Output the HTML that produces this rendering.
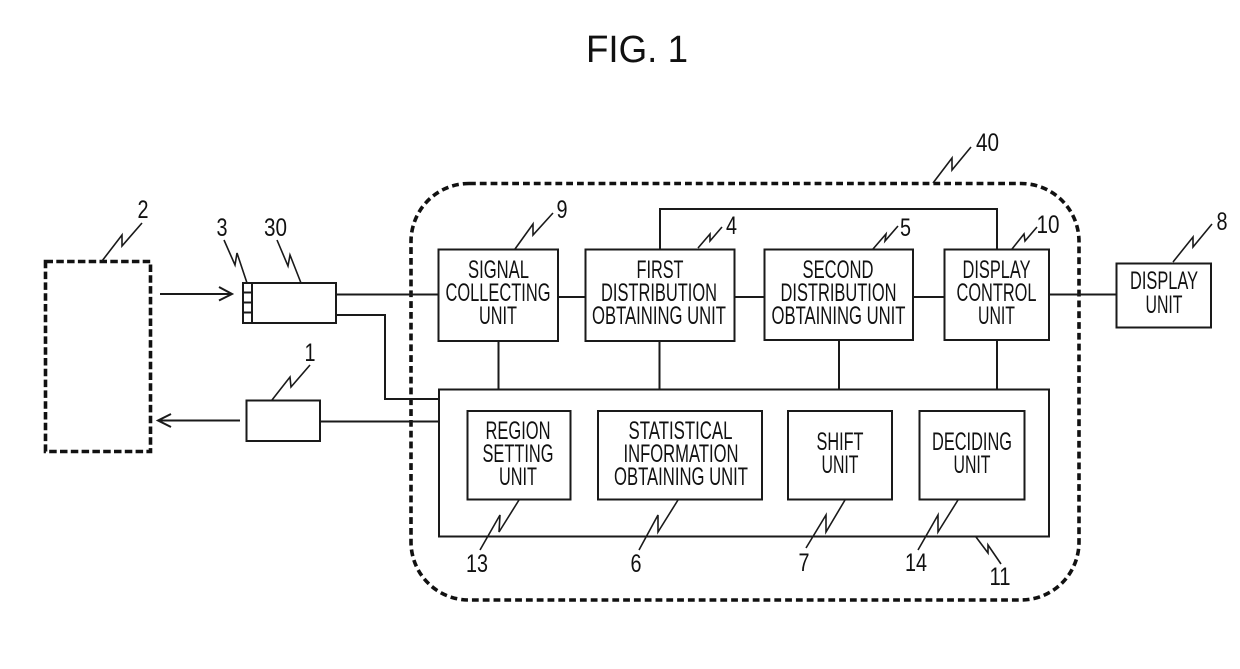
<!DOCTYPE html>
<html>
<head>
<meta charset="utf-8">
<style>
html,body{margin:0;padding:0;background:#fff;width:1240px;height:669px;overflow:hidden}
svg{display:block}
text{font-family:"Liberation Sans",sans-serif;font-size:25px;fill:#111;text-anchor:middle}
.b{fill:none;stroke:#1a1a1a;stroke-width:2}
.l{fill:none;stroke:#1a1a1a;stroke-width:2}
.t{fill:none;stroke:#1a1a1a;stroke-width:1.6}
.d{fill:none;stroke:#111;stroke-width:3.6}
</style>
</head>
<body>
<svg width="1240" height="669" viewBox="0 0 1240 669" xmlns="http://www.w3.org/2000/svg">
<text x="637" y="62" style="font-size:38px" textLength="102" lengthAdjust="spacingAndGlyphs">FIG. 1</text>

<!-- dashed containers -->
<rect class="d" x="45.500" y="261.500" width="105" height="190" stroke-dasharray="7.500 3.300"/>
<rect class="d" x="411" y="183.500" width="668" height="416.500" rx="58" ry="58" stroke-dasharray="6.800 4"/>

<!-- sensor -->
<rect class="b" x="243" y="283" width="93" height="40"/>
<path class="b" d="M252 283V323M243 292.500H252M243 302.500H252M243 312.500H252"/>

<!-- box 1 -->
<rect class="b" x="246.500" y="400.500" width="73.500" height="40.500"/>

<!-- arrows -->
<path class="l" d="M160 294H231M219 287L232 294L219 300.500"/>
<path class="l" d="M240 420.500H159M171 414L158 420.500L171 427"/>

<!-- connectors -->
<path class="l" d="M336 294.500H438M336 315H385V399H439M320 421.500H439"/>
<path class="l" d="M558 297H585M735 297H764M913 297H944M1049 294.500H1116"/>
<path class="l" d="M660 249V209H997V249"/>
<path class="l" d="M498.500 341V389M659.500 341V389M839 340V389M997 340V389"/>

<!-- top boxes -->
<rect class="b" x="438.500" y="249.500" width="119.500" height="91.500"/>
<rect class="b" x="585.500" y="249.500" width="149" height="91.500"/>
<rect class="b" x="764.500" y="249.500" width="148.500" height="90.500"/>
<rect class="b" x="944.500" y="249.500" width="104.500" height="90.500"/>
<rect class="b" x="1116.500" y="263.500" width="94.500" height="64"/>

<!-- large box -->
<rect class="b" x="439" y="389.500" width="610" height="147"/>
<rect class="b" x="467.500" y="411" width="103" height="88.500"/>
<rect class="b" x="598" y="411" width="164" height="88.500"/>
<rect class="b" x="788" y="411" width="104" height="88.500"/>
<rect class="b" x="919.500" y="411" width="105" height="88.500"/>

<!-- labels in boxes -->
<text x="498.500" y="278" textLength="61" lengthAdjust="spacingAndGlyphs">SIGNAL</text>
<text x="498" y="301" textLength="105" lengthAdjust="spacingAndGlyphs">COLLECTING</text>
<text x="498" y="324" textLength="38" lengthAdjust="spacingAndGlyphs">UNIT</text>

<text x="660" y="278" textLength="47" lengthAdjust="spacingAndGlyphs">FIRST</text>
<text x="659" y="301" textLength="116" lengthAdjust="spacingAndGlyphs">DISTRIBUTION</text>
<text x="659" y="324" textLength="134" lengthAdjust="spacingAndGlyphs">OBTAINING UNIT</text>

<text x="838" y="278" textLength="71" lengthAdjust="spacingAndGlyphs">SECOND</text>
<text x="838.500" y="301" textLength="116" lengthAdjust="spacingAndGlyphs">DISTRIBUTION</text>
<text x="838.500" y="324" textLength="134" lengthAdjust="spacingAndGlyphs">OBTAINING UNIT</text>

<text x="996.500" y="278" textLength="68" lengthAdjust="spacingAndGlyphs">DISPLAY</text>
<text x="996.500" y="301" textLength="80" lengthAdjust="spacingAndGlyphs">CONTROL</text>
<text x="996.500" y="324" textLength="37" lengthAdjust="spacingAndGlyphs">UNIT</text>

<text x="1164" y="289" textLength="68" lengthAdjust="spacingAndGlyphs">DISPLAY</text>
<text x="1164" y="313" textLength="37" lengthAdjust="spacingAndGlyphs">UNIT</text>

<text x="518" y="439" textLength="65" lengthAdjust="spacingAndGlyphs">REGION</text>
<text x="518" y="462" textLength="71" lengthAdjust="spacingAndGlyphs">SETTING</text>
<text x="518" y="485" textLength="38" lengthAdjust="spacingAndGlyphs">UNIT</text>

<text x="680.500" y="439" textLength="104" lengthAdjust="spacingAndGlyphs">STATISTICAL</text>
<text x="681" y="462" textLength="115" lengthAdjust="spacingAndGlyphs">INFORMATION</text>
<text x="681" y="485" textLength="134" lengthAdjust="spacingAndGlyphs">OBTAINING UNIT</text>

<text x="840" y="450" textLength="47" lengthAdjust="spacingAndGlyphs">SHIFT</text>
<text x="840" y="473" textLength="37" lengthAdjust="spacingAndGlyphs">UNIT</text>

<text x="972" y="450" textLength="80" lengthAdjust="spacingAndGlyphs">DECIDING</text>
<text x="972" y="473" textLength="37" lengthAdjust="spacingAndGlyphs">UNIT</text>

<!-- leaders -->
<path class="t" d="M102 261L122 235V246L142 223"/>
<path class="t" d="M224 240L235 265L237 253L247 283"/>
<path class="t" d="M277 240L288 266L290 255L301 283"/>
<path class="t" d="M272 400L290 377L291 387L310 365"/>
<path class="t" d="M515 249L533 224V235L553 213"/>
<path class="t" d="M698 248L710 234V241L722 227"/>
<path class="t" d="M873 249L886 234L885 241L898 226"/>
<path class="t" d="M1012 249L1024 234L1025 241L1037 227"/>
<path class="t" d="M1173 262L1193 237V247L1212 224"/>
<path class="t" d="M933 183L952 158V170L971 147"/>
<path class="t" d="M519 500L499 532L500 515L480 550"/>
<path class="t" d="M678 500L658 532V515L639 550"/>
<path class="t" d="M845 500L826 532V515L806 548"/>
<path class="t" d="M958 500L938 532V515L918 550"/>
<path class="t" d="M976 537L988 553V545L1001 564"/>

<!-- reference numerals -->
<text x="143" y="218" textLength="11" lengthAdjust="spacingAndGlyphs">2</text>
<text x="222" y="236" textLength="11" lengthAdjust="spacingAndGlyphs">3</text>
<text x="275.500" y="236" textLength="23" lengthAdjust="spacingAndGlyphs">30</text>
<text x="310" y="361" textLength="11" lengthAdjust="spacingAndGlyphs">1</text>
<text x="562" y="218" textLength="11" lengthAdjust="spacingAndGlyphs">9</text>
<text x="731.500" y="234" textLength="11" lengthAdjust="spacingAndGlyphs">4</text>
<text x="905.500" y="236" textLength="11" lengthAdjust="spacingAndGlyphs">5</text>
<text x="1048" y="233" textLength="23" lengthAdjust="spacingAndGlyphs">10</text>
<text x="1222" y="230" textLength="11" lengthAdjust="spacingAndGlyphs">8</text>
<text x="987.500" y="151" textLength="23" lengthAdjust="spacingAndGlyphs">40</text>
<text x="477" y="572" textLength="22" lengthAdjust="spacingAndGlyphs">13</text>
<text x="636" y="572" textLength="11" lengthAdjust="spacingAndGlyphs">6</text>
<text x="804" y="571" textLength="11" lengthAdjust="spacingAndGlyphs">7</text>
<text x="916" y="571" textLength="22" lengthAdjust="spacingAndGlyphs">14</text>
<text x="1000" y="585" textLength="21" lengthAdjust="spacingAndGlyphs">11</text>
</svg>
</body>
</html>
